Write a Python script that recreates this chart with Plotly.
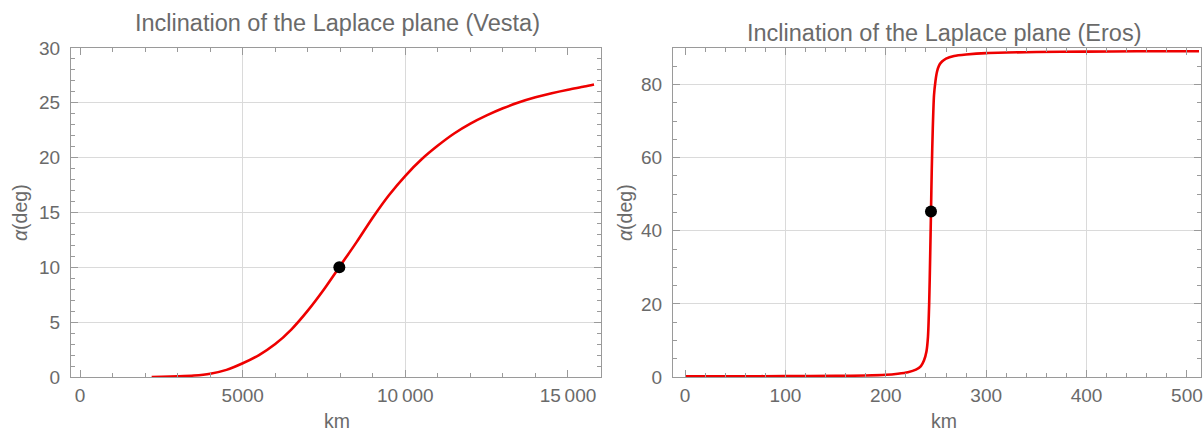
import plotly.graph_objects as go

# ---------------- data ----------------
vesta_km = [2200, 2500, 3000, 3500, 4000, 4500, 5000, 5500, 6000, 6500, 7000, 7500,
            8000, 8500, 9000, 9500, 10000, 10500, 11000, 11500, 12000, 12500, 13000,
            13500, 14000, 14500, 15000, 15500, 15800]
vesta_deg = [0.0, 0.02, 0.06, 0.13, 0.3, 0.65, 1.25, 2.0, 3.0, 4.35, 6.05, 8.0,
             10.15, 12.3, 14.55, 16.6, 18.35, 19.85, 21.1, 22.2, 23.1, 23.85, 24.5,
             25.05, 25.5, 25.88, 26.2, 26.48, 26.67]
vesta_point_km = [7970]
vesta_point_deg = [10.0]

eros_km = [0, 50, 100, 150, 180, 200, 212, 222, 230, 235, 238, 240.5, 242, 243.2,
           244.2, 245, 245.8, 246.8, 248, 249.5, 251, 253, 256, 260, 268, 280, 300,
           350, 400, 450, 512]
eros_deg = [0.2, 0.2, 0.25, 0.3, 0.4, 0.6, 0.9, 1.3, 2.0, 3.0, 4.5, 7.0, 11, 20,
            33, 45, 57, 68, 77, 81, 83.5, 85.2, 86.3, 87.1, 87.8, 88.2, 88.6,
            88.9, 89.0, 89.1, 89.1]
eros_point_km = [245]
eros_point_deg = [45.3]

vesta_xticks = [0, 5000, 10000, 15000]
vesta_xticktext = ["0", "5000", "10\u2009000", "15\u2009000"]
vesta_xgrid = [5000, 10000]
vesta_yticks = [0, 5, 10, 15, 20, 25, 30]
eros_xticks = [0, 100, 200, 300, 400, 500]
eros_xgrid = [100, 200, 300, 400]
eros_yticks = [0, 20, 40, 60, 80]

# ---------------- styling ----------------
W, H = 1203, 434
FONT = "Liberation Sans, Arial, sans-serif"
TXT = "#6a6a6a"
FRAME = "#9a9a9a"
GRID = "#dadada"
RED = "#ee0000"

def px_x(p):
    return p / W

def px_y(p):
    return 1 - p / H

L_dom = [px_x(71), px_x(601)]
R_dom = [px_x(673), px_x(1201)]
Y_dom = [px_y(377), px_y(48)]

fig = go.Figure()

# Vesta
fig.add_trace(go.Scatter(x=vesta_km, y=vesta_deg, mode="lines", xaxis="x", yaxis="y",
                         line=dict(color=RED, width=2.6, shape="spline", smoothing=0.8),
                         showlegend=False, hoverinfo="skip"))
fig.add_trace(go.Scatter(x=vesta_point_km, y=vesta_point_deg, mode="markers", xaxis="x3", yaxis="y",
                         marker=dict(color="black", size=12), showlegend=False, hoverinfo="skip"))
# Eros
fig.add_trace(go.Scatter(x=eros_km, y=eros_deg, mode="lines", xaxis="x2", yaxis="y2",
                         line=dict(color=RED, width=2.6, shape="spline", smoothing=0.6),
                         showlegend=False, hoverinfo="skip"))
fig.add_trace(go.Scatter(x=eros_point_km, y=eros_point_deg, mode="markers", xaxis="x4", yaxis="y2",
                         marker=dict(color="black", size=12), showlegend=False, hoverinfo="skip"))

tickfont = dict(family=FONT, size=19, color=TXT)

def main_x(dom, rng, tickvals, ticktext, minor_dtick, anchor):
    return dict(domain=dom, range=rng, anchor=anchor, tickmode="array",
                tickvals=tickvals, ticktext=ticktext, ticks="inside", ticklen=7,
                tickwidth=1, tickcolor=FRAME, showline=True, linecolor=FRAME, linewidth=1,
                mirror="ticks", showgrid=False, zeroline=False, tickfont=tickfont,
                ticklabelstandoff=1, automargin=False,
                minor=dict(ticks="inside", ticklen=4, tickcolor=FRAME, dtick=minor_dtick,
                           tick0=0, showgrid=False))

def grid_x(dom, rng, gridvals, overlay, anchor):
    return dict(domain=dom, range=rng, overlaying=overlay, anchor=anchor,
                tickmode="array", tickvals=gridvals, showticklabels=False, ticks="",
                showline=False, zeroline=False, showgrid=True, gridcolor=GRID, gridwidth=1,
                automargin=False)

def main_y(dom, rng, tickvals, minor_dtick, anchor):
    return dict(domain=dom, range=rng, anchor=anchor, tickmode="array",
                tickvals=tickvals, ticks="inside", ticklen=7, tickwidth=1, tickcolor=FRAME,
                showline=True, linecolor=FRAME, linewidth=1, mirror="ticks",
                showgrid=True, gridcolor=GRID, gridwidth=1, zeroline=False,
                tickfont=tickfont, ticklabelstandoff=6, automargin=False,
                minor=dict(ticks="inside", ticklen=4, tickcolor=FRAME, dtick=minor_dtick,
                           tick0=0, showgrid=False))

vx_range = [-280, 16015]
ex_range = [-12, 514]

fig.update_layout(
    template="none",
    width=W, height=H, autosize=False,
    margin=dict(l=0, r=0, t=0, b=0, pad=0),
    paper_bgcolor="white", plot_bgcolor="white",
    font=dict(family=FONT, color=TXT),
    xaxis=main_x(L_dom, vx_range, vesta_xticks, vesta_xticktext, 1000, "y"),
    yaxis=main_y(Y_dom, [0, 30], vesta_yticks, 1, "x"),
    xaxis2=main_x(R_dom, ex_range, eros_xticks, [str(v) for v in eros_xticks], 20, "y2"),
    yaxis2=main_y(Y_dom, [0, 90], eros_yticks, 5, "x2"),
    xaxis3=grid_x(L_dom, vx_range, vesta_xgrid, "x", "y"),
    xaxis4=grid_x(R_dom, ex_range, eros_xgrid, "x2", "y2"),
)

ann_font = dict(family=FONT, color=TXT)
anns = [
    dict(text="Inclination of the Laplace plane (Vesta)", x=px_x(337), y=px_y(23),
         font=dict(size=23.5, **ann_font)),
    dict(text="Inclination of the Laplace plane (Eros)", x=px_x(944), y=px_y(33),
         font=dict(size=23.5, **ann_font)),
    dict(text="km", x=px_x(337), y=px_y(421), font=dict(size=19.5, **ann_font)),
    dict(text="km", x=px_x(944), y=px_y(421), font=dict(size=19.5, **ann_font)),
    dict(text="<i>α</i>(deg)", x=px_x(20), y=px_y(213), textangle=-90,
         font=dict(size=19.5, **ann_font)),
    dict(text="<i>α</i>(deg)", x=px_x(625), y=px_y(213), textangle=-90,
         font=dict(size=19.5, **ann_font)),
]
for a in anns:
    fig.add_annotation(xref="paper", yref="paper", xanchor="center", yanchor="middle",
                       showarrow=False, **a)

fig.write_html("out.html")
